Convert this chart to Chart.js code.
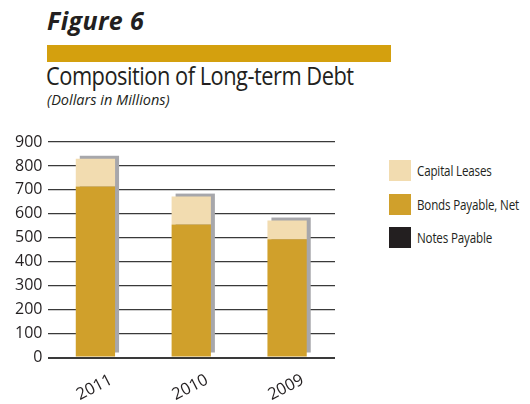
<!DOCTYPE html>
<html>
<head>
<meta charset="utf-8">
<script src="https://cdn.jsdelivr.net/npm/chart.js@4.4.0/dist/chart.umd.min.js"></script>
<style>
  body { margin: 0; background: #fff; width: 530px; height: 404px; overflow: hidden; position: relative; font-family: "Open Sans", sans-serif; color: #231f20; }
  .fig { position: absolute; left: 47px; top: 3px; font-size: 25px; font-weight: bold; font-style: italic; letter-spacing: 0.4px; }
  .band { position: absolute; left: 47px; top: 45px; width: 344px; height: 17px; background: #d4a00e; }
  .title { position: absolute; left: 46px; top: 57px; font-size: 26px; letter-spacing: -0.6px; transform: scaleX(0.84); transform-origin: left top; white-space: nowrap; }
  .sub { position: absolute; left: 47px; top: 90px; font-size: 14.5px; font-style: italic; white-space: nowrap; }
  #chartBox { position: absolute; left: 0; top: 120px; width: 370px; height: 284px; }
  #legend { position: absolute; left: 389px; top: 154px; }
  .item { display: flex; align-items: center; height: 33.5px; }
  .sw { width: 22px; height: 21px; margin-right: 6px; }
  .lbl { font-size: 14.5px; letter-spacing: -0.2px; white-space: nowrap; transform: scaleX(0.8); transform-origin: left center; }
</style>
</head>
<body>
<div class="fig">Figure 6</div>
<div class="band"></div>
<div class="title">Composition of Long-term Debt</div>
<div class="sub">(Dollars in Millions)</div>
<div id="chartBox"><canvas id="debtChart"></canvas></div>
<div id="legend"></div>
<script>
// Composition of Long-term Debt data
const years = ["2011", "2010", "2009"];
const bondsPayable = [714, 555, 494];
const capitalLeases = [116, 117, 78];
const notesPayable = [0, 0, 0];
const yTicks = [0, 100, 200, 300, 400, 500, 600, 700, 800, 900];

// gray shadow behind each stacked bar
const barShadow = {
  id: "barShadow",
  beforeDatasetsDraw(chart) {
    const ctx = chart.ctx;
    const y = chart.scales.y;
    const meta = chart.getDatasetMeta(0);
    ctx.save();
    ctx.fillStyle = "#a7a7ab";
    meta.data.forEach((bar, i) => {
      const total = bondsPayable[i] + capitalLeases[i] + notesPayable[i];
      const top = y.getPixelForValue(total) - 3;
      const bottom = y.getPixelForValue(0) - 5;
      ctx.fillRect(bar.x - bar.width / 2 + 4, top, bar.width, bottom - top);
    });
    ctx.restore();
  }
};

// rotated year labels centred on each bar
const yearLabels = {
  id: "yearLabels",
  afterDraw(chart) {
    const ctx = chart.ctx;
    const x = chart.scales.x;
    ctx.save();
    ctx.font = "16.5px 'Open Sans'";
    ctx.fillStyle = "#231f20";
    ctx.textAlign = "center";
    ctx.textBaseline = "middle";
    years.forEach((yr, i) => {
      ctx.save();
      ctx.translate(x.getPixelForValue(i) - 1, chart.chartArea.bottom + 30);
      ctx.rotate(-27 * Math.PI / 180);
      ctx.fillText(yr, 0, 0);
      ctx.restore();
    });
    ctx.restore();
  }
};

const chart = new Chart(document.getElementById("debtChart").getContext("2d"), {
  type: "bar",
  data: {
    labels: years,
    datasets: [
      { label: "Bonds Payable, Net", data: bondsPayable, backgroundColor: "#d0a02b" },
      { label: "Capital Leases", data: capitalLeases, backgroundColor: "#f2dcb0" },
      { label: "Notes Payable", data: notesPayable, backgroundColor: "#231f20" },
    ],
  },
  options: {
    responsive: true,
    maintainAspectRatio: false,
    animation: false,
    categoryPercentage: 1,
    barPercentage: 0.41,
    layout: { padding: { top: 22, right: 35, left: 0, bottom: 0 } },
    plugins: { legend: { display: false }, tooltip: { enabled: false } },
    scales: {
      x: {
        stacked: true,
        grid: { display: false, drawTicks: false },
        border: { display: false },
        ticks: { display: false },
        afterFit: scale => { scale.height = 46.5; },
      },
      y: {
        stacked: true,
        min: 0,
        max: 900,
        afterBuildTicks: scale => { scale.ticks = yTicks.map(v => ({ value: v })); },
        afterFit: scale => { scale.width = 47.5; },
        border: { display: false },
        grid: {
          drawTicks: false,
          color: "#3a3a3a",
          lineWidth: ctx => ctx.tick && ctx.tick.value === 0 ? 2 : 1.3,
        },
        ticks: {
          padding: 5,
          color: "#231f20",
          font: { family: "Open Sans", size: 16 },
        },
      },
    },
  },
  plugins: [barShadow, yearLabels],
});

// legend, top to bottom in reverse stack order
document.getElementById("legend").innerHTML = [1, 0, 2].map(i => {
  const ds = chart.data.datasets[i];
  return `<div class="item"><div class="sw" style="background:${ds.backgroundColor}"></div><span class="lbl">${ds.label}</span></div>`;
}).join("");
</script>
</body>
</html>
